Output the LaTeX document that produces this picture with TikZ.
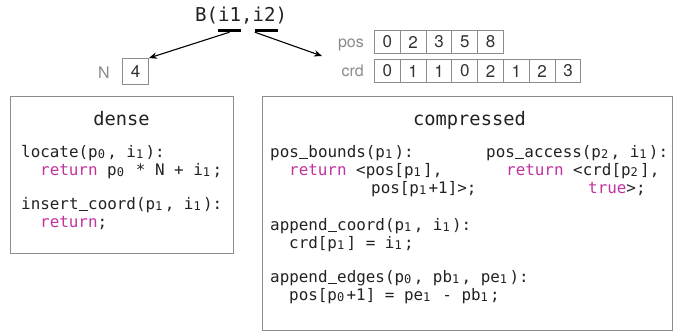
\documentclass[tikz,border=0pt]{standalone}
\usepackage{fontspec}
\setmainfont{TeX Gyre Heros}
\newfontfamily\codefont{DejaVu Sans Mono}
\usetikzlibrary{arrows.meta}
\definecolor{kwc}{HTML}{C2329F}
\definecolor{framec}{HTML}{8C8C8C}
\definecolor{labc}{HTML}{8A8A8A}
\definecolor{txtc}{HTML}{222222}
\newcommand{\kw}[1]{\textcolor{kwc}{#1}}
\newcommand{\subd}[1]{\makebox[0.602em][l]{\raisebox{-1pt}{\fontsize{12}{12}\selectfont #1}}}
\newcommand{\us}{\makebox[0.602em][c]{\rule[-1.8pt]{0.56em}{1.2pt}}}
\begin{document}
\begin{tikzpicture}[x=1pt,y=-1pt,
  code/.style={anchor=base west, inner sep=0pt, text=txtc, font=\codefont\fontsize{15.9}{18}\selectfont},
  ttl/.style={anchor=base, inner sep=0pt, text=txtc, font=\codefont\fontsize{18.7}{22}\selectfont},
  cell/.style={draw=framec, line width=1pt, minimum width=25.8pt, minimum height=23pt, inner sep=0pt, anchor=north west, text=black!80, font=\fontsize{17}{17}\selectfont},
  lbl/.style={anchor=base east, inner sep=0pt, text=labc, font=\fontsize{16}{16}\selectfont},
  panel/.style={draw=framec, line width=1.3pt},
  arr/.style={-{Stealth[length=8pt,width=6.5pt]}, line width=1.1pt},
  uline/.style={fill=black, minimum width=23pt, minimum height=3pt, inner sep=0pt}]
\useasboundingbox (0,0) rectangle (683,335);

% header
\node[anchor=base west, inner sep=0pt, text=txtc, font=\codefont\fontsize{19.1}{22}\selectfont] (B) at (195,21) {B(i1,i2)};
\node[uline] (u1) at (229.5,30.5) {};
\node[uline] (u2) at (266.5,30.5) {};

% N box
\node[lbl] (Nlbl) at (110,78) {N};
\node[draw=framec, line width=1pt, minimum width=26pt, minimum height=26pt, inner sep=0pt, anchor=north west, text=black!80, font=\fontsize{17}{17}\selectfont] (Nbox) at (122,58) {4};

% arrays
\node[lbl] (poslbl) at (364,47) {pos};
\node[lbl] (crdlbl) at (364,76) {crd};
\foreach \v [count=\i from 0] in {0,2,3,5,8}
  \node[cell] (pos\i) at (374+25.8*\i,30) {\v};
\foreach \v [count=\i from 0] in {0,1,1,0,2,1,2,3}
  \node[cell] (crd\i) at (374+25.8*\i,59) {\v};

\coordinate (tipR) at (322,56);
\draw[arr] (u1.south) -- (Nbox.north east);
\draw[arr] (u2.south west) -- (tipR);

% dense panel
\node[panel, minimum width=223pt, minimum height=157pt, inner sep=0pt, anchor=north west] (dense) at (10,96) {};
\node[ttl] (denseT) at (121.5,125) {dense};
\node[code] (d1) at (21,157) {locate(p\subd{0}, i\subd{1}):};
\node[code] (d2) at (40,175) {\kw{return} p\subd{0} * N + i\subd{1};};
\node[code] (d3) at (21,209) {insert\us coord(p\subd{1}, i\subd{1}):};
\node[code] (d4) at (40,227) {\kw{return};};

% compressed panel
\node[panel, minimum width=410pt, minimum height=234pt, inner sep=0pt, anchor=north west] (comp) at (262,96) {};
\node[ttl] (compT) at (469.5,125) {compressed};
\node[code] (c1) at (270,157) {pos\us bounds(p\subd{1}):};
\node[code] (c2) at (289,175) {\kw{return} <pos[p\subd{1}],};
\node[code] (c3) at (371,193) {pos[p\subd{1}+1]>;};
\node[code] (c4) at (486,157) {pos\us access(p\subd{2}, i\subd{1}):};
\node[code] (c5) at (506,175) {\kw{return} <crd[p\subd{2}],};
\node[code] (c6) at (588,193) {\kw{true}>;};
\node[code] (c7) at (270,230) {append\us coord(p\subd{1}, i\subd{1}):};
\node[code] (c8) at (289,248) {crd[p\subd{1}] = i\subd{1};};
\node[code] (c9) at (270,282) {append\us edges(p\subd{0}, pb\subd{1}, pe\subd{1}):};
\node[code] (c10) at (289,300) {pos[p\subd{0}+1] = pe\subd{1} - pb\subd{1};};
\end{tikzpicture}
\end{document}
